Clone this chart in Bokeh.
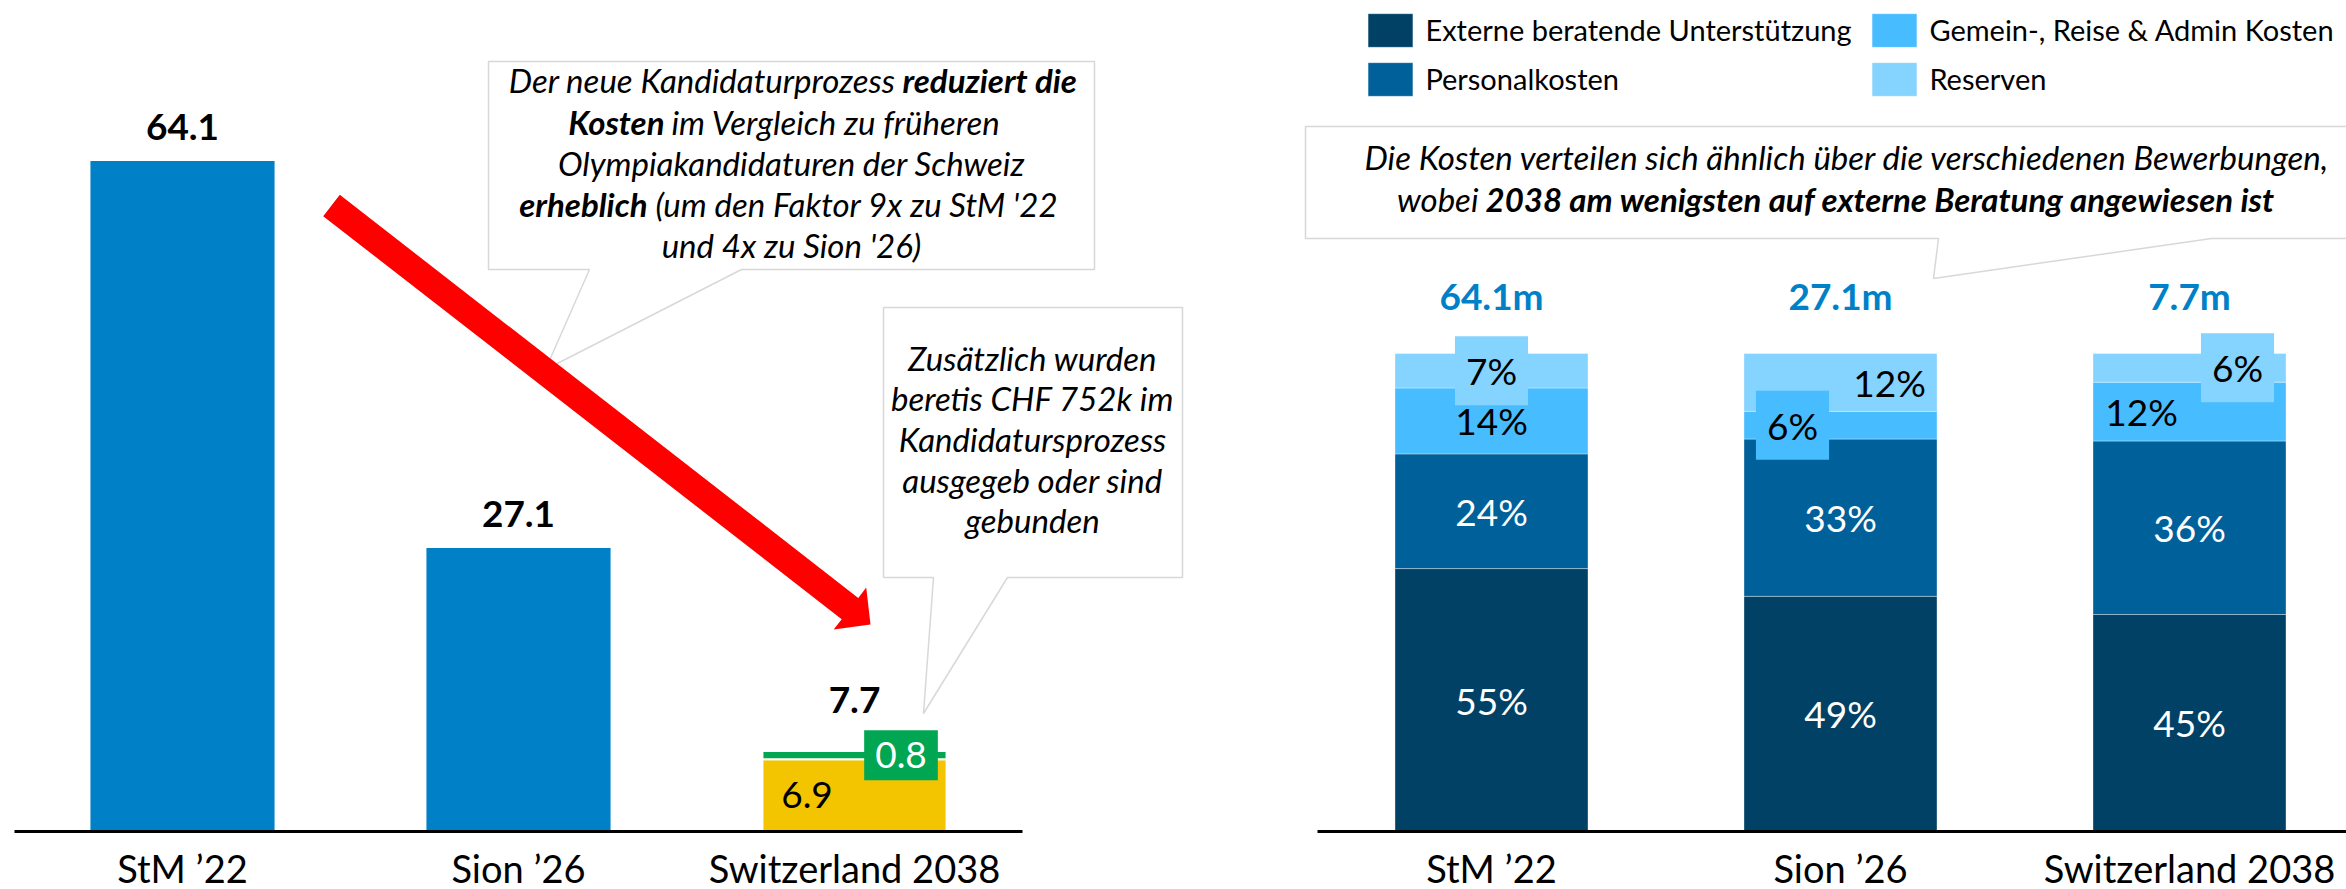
import math
from bokeh.plotting import figure
from bokeh.models import (Range1d, FixedTicker, Label, ColumnDataSource,
                          PolyAnnotation, Legend, LegendItem)
from bokeh.layouts import row
from bokeh.embed import file_html
from bokeh.resources import INLINE

# ---------------- data ----------------
categories = ["StM ’22", "Sion ’26", "Switzerland 2038"]
earlier_bid_costs = [64.1, 27.1]          # CHF m, earlier Swiss Olympic bids
bid_2038_planned = [6.9]                  # CHF m
bid_2038_committed = [0.8]                # CHF m already spent or committed

cost_types = ["Externe beratende Unterstützung", "Personalkosten",
              "Gemein-, Reise & Admin Kosten", "Reserven"]
share_external = [55.0, 49.2, 45.4]       # % of total
share_staff = [24.0, 32.9, 36.3]
share_overhead = [13.8, 5.8, 12.3]
share_reserves = [7.2, 12.1, 6.0]
total_costs = [64.1, 27.1, 7.7]           # CHF m

# ---------------- layout / style ----------------
FONT = "Lato"
H_FRAME = 831
LW, RW = 1240, 1106
L_X0, L_UNIT, L_PPV = 14.0, 336.0, 10.46      # left chart: px of x=0, px per category, px per CHF m
R_X0, R_UNIT, R_PPV = 1316.5, 349.0, 4.78     # right chart (window px), px per %
BLUE = "#0080C6"
YELLOW = "#F2C500"
GREEN = "#00A651"
SEG_COLORS = ["#004165", "#00609A", "#47BCFF", "#85D3FF"]
CALLOUT_LINE = "#7F7F7F"
CALLOUT_SIZE = "33px"
LABEL_BOX_H = 52   # px; segments thinner than this get a boxed label


def lx(px): return (px - L_X0) / L_UNIT
def ly(py): return (H_FRAME - py) / L_PPV
def rx(px): return (px - R_X0) / R_UNIT
def ry(py): return (H_FRAME - py) / R_PPV


def base_fig(width, xr, yr):
    p = figure(frame_width=width, frame_height=H_FRAME, x_range=xr, y_range=yr,
               output_backend="svg", toolbar_location=None, title=None,
               y_axis_location=None, min_border=0)
    p.outline_line_color = None
    p.xgrid.visible = False
    p.ygrid.visible = False
    p.background_fill_color = "white"
    p.border_fill_color = "white"
    ax = p.xaxis[0]
    ax.ticker = FixedTicker(ticks=[i + 0.5 for i in range(len(categories))])
    ax.major_label_overrides = {i + 0.5: c for i, c in enumerate(categories)}
    ax.bounds = (0, len(categories))
    ax.axis_line_color = "black"
    ax.axis_line_width = 3
    ax.major_tick_line_color = None
    ax.minor_tick_line_color = None
    ax.major_tick_out = 0
    ax.major_tick_in = 0
    ax.major_label_text_font = FONT
    ax.major_label_text_font_size = "38px"
    ax.major_label_text_color = "black"
    ax.major_label_standoff = 13
    return p


def callout(p, pts, cx, cy):
    p.add_layout(PolyAnnotation(xs=[cx(a) for a, b in pts], ys=[cy(b) for a, b in pts],
                                fill_color="white", fill_alpha=1.0,
                                line_color=CALLOUT_LINE, line_width=1.5))


def text(p, cx, cy, x_px, y_px, t, style="italic", align="center", size=CALLOUT_SIZE, color="black"):
    p.add_layout(Label(x=cx(x_px), y=cy(y_px), text=t, text_align=align,
                       text_baseline="middle", text_font=FONT, text_font_style=style,
                       text_font_size=size, text_color=color))


xs = [i + 0.5 for i in range(len(categories))]

# ================= left chart =================
pl = base_fig(LW, Range1d(lx(0), lx(LW)), Range1d(0, H_FRAME / L_PPV))
pl.vbar(x=xs[:len(earlier_bid_costs)], top=earlier_bid_costs, width=0.548,
        color=BLUE, line_color=None)
src38 = ColumnDataSource(dict(x=[xs[2]], planned=bid_2038_planned, committed=bid_2038_committed))
pl.vbar_stack(["planned", "committed"], x="x", width=0.548, color=[YELLOW, GREEN],
              line_color="white", line_width=2, source=src38)

left_totals = earlier_bid_costs + [bid_2038_planned[0] + bid_2038_committed[0]]
lift = [34, 34, 51]
for x, t, dy in zip(xs, left_totals, lift):
    pl.add_layout(Label(x=x, y=t, y_offset=dy, text=f"{t:.1f}", text_align="center",
                        text_baseline="middle", text_font=FONT, text_font_style="bold",
                        text_font_size="37px", text_color="black"))

p38, c38 = bid_2038_planned[0], bid_2038_committed[0]
pl.add_layout(Label(x=xs[2], y=p38 / 2, x_offset=-47.5, text=f"{p38:.1f}", text_align="center",
                    text_baseline="middle", text_font=FONT, text_font_size="37px",
                    text_color="black"))
pl.add_layout(Label(x=xs[2], y=p38 + c38 / 2, x_offset=46.5, text=f"{c38:.1f}", text_align="center",
                    text_baseline="middle", text_font=FONT, text_font_size="37px",
                    text_color="white", background_fill_color=GREEN, padding=(11, 12)))

# callout 1
callout(pl, [(488, 61), (1094, 61), (1094, 269), (741, 269), (545, 369), (589, 269), (488, 269)], lx, ly)
text(pl, lx, ly, 895, 79, "Der neue Kandidaturprozess", align="right")
text(pl, lx, ly, 902, 79, "reduziert die", style="bold italic", align="left")
text(pl, lx, ly, 664, 121, "Kosten", style="bold italic", align="right")
text(pl, lx, ly, 671, 121, "im Vergleich zu früheren", align="left")
text(pl, lx, ly, 791, 162, "Olympiakandidaturen der Schweiz")
text(pl, lx, ly, 647, 203, "erheblich", style="bold italic", align="right")
text(pl, lx, ly, 655, 203, "(um den Faktor 9x zu StM '22", align="left")
text(pl, lx, ly, 791, 244, "und 4x zu Sion '26)")

# callout 2
callout(pl, [(883, 307), (1182, 307), (1182, 577), (1007, 577), (923, 713), (933, 577), (883, 577)], lx, ly)
for ym, t in zip([357, 397, 438, 479, 519],
                 ["Zusätzlich wurden", "beretis CHF 752k im", "Kandidatursprozess",
                  "ausgegeb oder sind", "gebunden"]):
    text(pl, lx, ly, 1032, ym, t)

# red arrow
S, T = (331.0, 205.0), (870.0, 624.0)
L = math.hypot(T[0] - S[0], T[1] - S[1])
u = ((T[0] - S[0]) / L, (T[1] - S[1]) / L)
n = (-u[1], u[0])
B = (T[0] - 26 * u[0], T[1] - 26 * u[1])
def off(P, k): return (P[0] + n[0] * k, P[1] + n[1] * k)
arrow_pts = [off(S, 13.5), off(B, 13.5), off(B, 26.5), T, off(B, -26.5), off(B, -13.5), off(S, -13.5)]
pl.add_layout(PolyAnnotation(xs=[lx(a) for a, b in arrow_pts], ys=[ly(b) for a, b in arrow_pts],
                             fill_color="#FF0000", fill_alpha=1.0, line_color=None))

# ================= right chart =================
pr = base_fig(RW, Range1d(rx(LW), rx(LW + RW)), Range1d(0, H_FRAME / R_PPV))
series = [share_external, share_staff, share_overhead, share_reserves]
keys = ["ext", "staff", "overhead", "reserves"]
src = ColumnDataSource(dict(x=xs, **{k: v for k, v in zip(keys, series)}))
rs = pr.vbar_stack(keys, x="x", width=0.553, color=SEG_COLORS, line_color="white",
                   line_width=1, line_alpha=0.35, source=src)

leg_style = dict(orientation="vertical", glyph_width=56, glyph_height=42, label_standoff=7,
                 spacing=7, padding=0, margin=0, border_line_color=None,
                 background_fill_alpha=0, label_text_font=FONT, label_text_font_size="29px",
                 label_text_color="black")
leg1 = Legend(items=[LegendItem(label=cost_types[0], renderers=[rs[0]]),
                     LegendItem(label=cost_types[1], renderers=[rs[1]])],
              location=(1362.4 - LW, H_FRAME - 8.8 - 91), **leg_style)
leg2 = Legend(items=[LegendItem(label=cost_types[2], renderers=[rs[2]]),
                     LegendItem(label=cost_types[3], renderers=[rs[3]])],
              location=(1866.4 - LW, H_FRAME - 8.8 - 91), **leg_style)
pr.add_layout(leg1)
pr.add_layout(leg2)

# segment labels
label_dx = {(1, 2): -48, (1, 3): 49, (2, 2): -48, (2, 3): 48}
for i, x in enumerate(xs):
    base = 0.0
    for j, vals in enumerate(series):
        v = vals[i]
        kw = {}
        if v * R_PPV < LABEL_BOX_H:
            kw = dict(background_fill_color=SEG_COLORS[j], padding=(11, 12))
        pr.add_layout(Label(x=x, y=base + v / 2, x_offset=label_dx.get((i, j), 0),
                            text=f"{round(v)}%", text_align="center", text_baseline="middle",
                            text_font=FONT, text_font_size="37px",
                            text_color="white" if j < 2 else "black", **kw))
        base += v
    pr.add_layout(Label(x=x, y=base, y_offset=58, text=f"{total_costs[i]:.1f}m",
                        text_align="center", text_baseline="middle", text_font=FONT,
                        text_font_style="bold", text_font_size="37px", text_color=BLUE))

# callout 3
callout(pr, [(1305, 126), (2389, 126), (2389, 238), (2211, 238), (1933, 278), (1938, 238), (1305, 238)], rx, ry)
text(pr, rx, ry, 1847, 156, "Die Kosten verteilen sich ähnlich über die verschiedenen Bewerbungen,")
text(pr, rx, ry, 1478, 198, "wobei", align="right")
text(pr, rx, ry, 1485, 198, "2038 am wenigsten auf externe Beratung angewiesen ist",
     style="bold italic", align="left")

layout = row(pl, pr)
open("out.html", "w").write(file_html(layout, INLINE))
